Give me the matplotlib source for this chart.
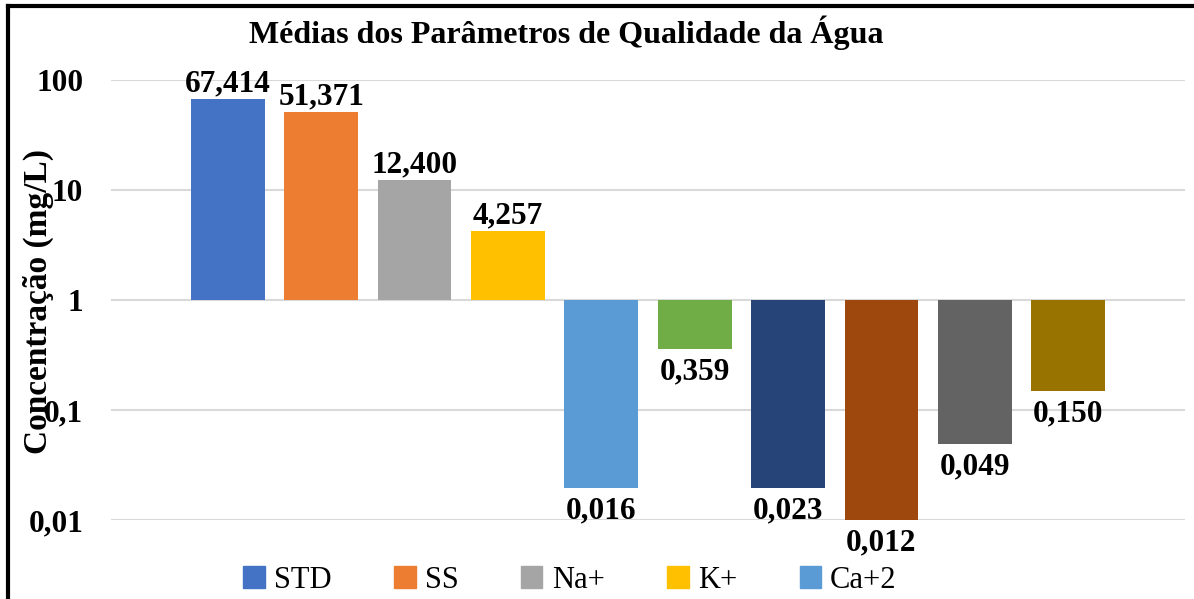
import matplotlib.pyplot as plt
from matplotlib.lines import Line2D
from matplotlib.patches import Patch
from matplotlib.ticker import FixedLocator, FixedFormatter, NullLocator

# Dados ###############################################################
parametros = ['STD', 'SS', 'Na+', 'K+', 'Ca+2']
valores = [67.414, 51.371, 12.400, 4.257, 0.0195, 0.359, 0.0195, 0.0100, 0.049, 0.150]
rotulos = ['67,414', '51,371', '12,400', '4,257', '0,016', '0,359', '0,023', '0,012', '0,049', '0,150']
cores = ['#4472C4', '#ED7D31', '#A5A5A5', '#FFC000', '#5B9BD5',
         '#70AD47', '#264478', '#9E480E', '#636363', '#997300']
ticks_y = [0.01, 0.1, 1, 10, 100]
ticks_y_txt = ['0,01', '0,1', '1', '10', '100']

plt.rcParams['font.family'] = ['Liberation Serif', 'DejaVu Serif']

# Figura ##############################################################
fig = plt.figure(figsize=(11.94, 5.99), dpi=100)
ax = fig.add_axes([111 / 1194, 79 / 599, 1074 / 1194, 440 / 599])

x = list(range(len(valores)))
base = 1.0
alturas = [v - base for v in valores]
ax.bar(x, alturas, bottom=base, width=0.79, color=cores, zorder=3)

ax.set_yscale('log')
ax.set_ylim(0.01, 100)
ax.set_xlim(-1.25, len(valores) - 1 + 1.25)
ax.yaxis.set_major_locator(FixedLocator(ticks_y))
ax.yaxis.set_major_formatter(FixedFormatter(ticks_y_txt))
ax.yaxis.set_minor_locator(NullLocator())
ax.set_xticks([])
ax.tick_params(axis='y', length=0, pad=20, labelsize=22.5)
for lbl in ax.get_yticklabels():
    lbl.set_fontweight('bold')
ax.grid(axis='y', color='#D9D9D9', linewidth=1.5, zorder=0)
for s in ax.spines.values():
    s.set_visible(False)

# Rótulos dos valores
for xi, v, txt in zip(x, valores, rotulos):
    if v >= 1:
        ax.annotate(txt, (xi, v), xytext=(0, 0), textcoords='offset points',
                    ha='center', va='bottom', fontsize=22.5, fontweight='bold',
                    annotation_clip=False)
    else:
        ax.annotate(txt, (xi, v), xytext=(0, -6), textcoords='offset points',
                    ha='center', va='top', fontsize=22.5, fontweight='bold',
                    annotation_clip=False)

# Títulos
fig.text(566 / 1194, 1 - 33 / 599, 'Médias dos Parâmetros de Qualidade da Água',
         ha='center', va='center', fontsize=23, fontweight='bold')
fig.text(38 / 1194, 1 - 302 / 599, 'Concentração (mg/L)', rotation=90,
         ha='center', va='center', fontsize=24, fontweight='bold')

# Legenda
handles = [Patch(color=c) for c in cores[:len(parametros)]]
fig.legend(handles, parametros, loc='center', bbox_to_anchor=(570 / 1194, 1 - 580 / 599),
           ncol=5, frameon=False, fontsize=22, handlelength=0.7, handleheight=0.7,
           handletextpad=0.3, columnspacing=2.05)

# Moldura (recortada à direita e em baixo)
fig.add_artist(Line2D([8 / 1194, 8 / 1194], [0, 1 - 6 / 599], color='black', linewidth=3,
                      transform=fig.transFigure))
fig.add_artist(Line2D([8 / 1194, 1], [1 - 6 / 599, 1 - 6 / 599], color='black', linewidth=3,
                      transform=fig.transFigure))

fig.savefig('out.png', dpi=100)
